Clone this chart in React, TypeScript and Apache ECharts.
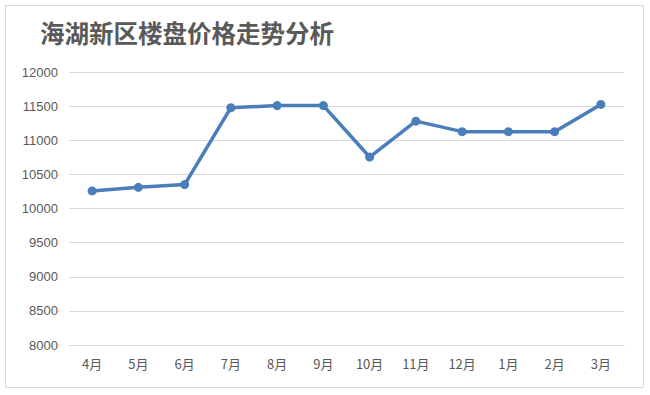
import React, { useEffect, useRef } from "react";
import * as echarts from "echarts";

const titleText = "海湖新区楼盘价格走势分析";
const months = ["4月", "5月", "6月", "7月", "8月", "9月", "10月", "11月", "12月", "1月", "2月", "3月"];
const prices = [10257, 10310, 10350, 11477, 11508, 11508, 10754, 11280, 11126, 11126, 11126, 11525];
const yMin = 8000;
const yMax = 12000;
const yStep = 500;

export default function App() {
  const ref = useRef<HTMLDivElement>(null);
  useEffect(() => {
    document.body.style.margin = "0";
    const chart = echarts.init(ref.current!, null, { renderer: "svg" });
    chart.setOption({
      animation: false,
      backgroundColor: "#ffffff",
      graphic: [
        {
          type: "rect",
          shape: { x: 5.5, y: 5.5, width: 638, height: 382 },
          style: { fill: "none", stroke: "#d9d9d9", lineWidth: 1 },
        },
      ],
      title: {
        text: titleText,
        left: 35,
        top: 15,
        textStyle: {
          fontFamily: "Noto Sans CJK SC",
          fontSize: 24.5,
          fontWeight: "bold",
          color: "#595959",
        },
      },
      grid: { left: 69, right: 26, top: 72, bottom: 50 },
      xAxis: {
        type: "category",
        data: months,
        boundaryGap: true,
        axisLine: { show: true, lineStyle: { color: "#d9d9d9", width: 1 } },
        axisTick: { show: false },
        axisLabel: {
          color: "#595959",
          fontSize: 13,
          fontFamily: "Noto Sans CJK SC",
          margin: 12,
        },
      },
      yAxis: {
        type: "value",
        min: yMin,
        max: yMax,
        interval: yStep,
        axisLine: { show: false },
        axisTick: { show: false },
        axisLabel: {
          color: "#595959",
          fontSize: 13,
          fontFamily: "Liberation Sans",
          margin: 11,
          formatter: (v: number) => String(v),
        },
        splitLine: { lineStyle: { color: "#d9d9d9", width: 1 } },
      },
      series: [
        {
          type: "line",
          data: prices,
          symbol: "circle",
          symbolSize: 9,
          lineStyle: { color: "#4a7ebb", width: 3.5 },
          itemStyle: { color: "#4a7ebb" },
        },
      ],
    });
    return () => chart.dispose();
  }, []);
  return <div ref={ref} style={{ width: 650, height: 395 }} />;
}
